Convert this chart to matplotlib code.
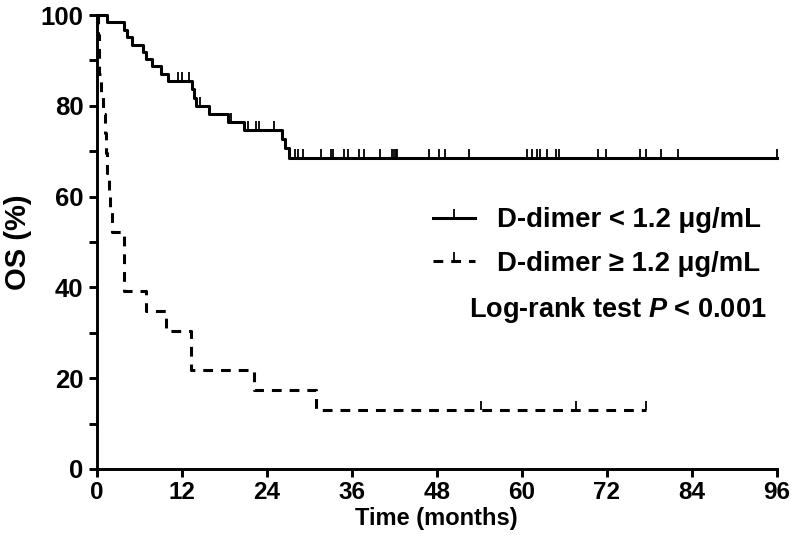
import numpy as np
import matplotlib
matplotlib.use("Agg")
from matplotlib import pyplot as plt
from matplotlib.lines import Line2D

# D-dimer < 1.2 ug/mL : event times (months) and survival (%)
low_t = [0, 1.4, 3.8, 4.3, 4.9, 6.5, 6.9, 7.8, 9.1, 10.1, 13.5, 13.7, 14.0,
         15.9, 18.5, 20.8, 26.2, 26.6, 27.2]
low_s = [100, 98.4, 96.8, 95.2, 93.5, 91.9, 90.3, 88.7, 87.1, 85.4, 83.6, 81.8,
         80.0, 78.2, 76.4, 74.6, 72.6, 70.6, 68.6]
low_end = 96
low_cens = [11.5, 12.0, 13.0, 14.5, 19.0, 21.3, 22.5, 22.9, 25.0, 27.95, 28.4,
            29.1, 31.6, 33.0, 33.3, 34.9, 35.4, 37.0, 37.7, 40.0, 41.7, 42.0,
            42.2, 42.4, 46.9, 48.3, 49.2, 52.6, 60.7, 61.5, 62.2, 62.5, 63.5,
            64.8, 65.3, 70.7, 71.9, 76.7, 77.6, 79.6, 82.0, 96.0]

# D-dimer >= 1.2 ug/mL
high_t = [0, 0.2, 0.3, 0.35, 0.6, 0.9, 1.1, 1.3, 1.5, 1.7, 1.9, 2.1, 3.9, 7.0,
          9.7, 13.3, 22.2, 31.0]
high_s = [100, 95.7, 91.3, 87.0, 82.6, 78.3, 73.9, 69.6, 65.2, 60.9, 56.5,
          52.2, 39.1, 34.8, 30.4, 21.7, 17.4, 13.0]
high_end = 77.5
high_cens = [54.2, 67.6, 77.5]

labels = ["D-dimer < 1.2 μg/mL", "D-dimer ≥ 1.2 μg/mL"]
x_ticks = [0, 12, 24, 36, 48, 60, 72, 84, 96]
y_ticks = [0, 20, 40, 60, 80, 100]


def survival_at(t, s, c):
    idx = np.searchsorted(t, c, side="right") - 1
    return np.asarray(s)[idx]


def main():
    plt.rcParams["font.family"] = ["Liberation Sans", "DejaVu Sans"]
    plt.rcParams["font.weight"] = "bold"
    plt.rcParams["mathtext.fontset"] = "custom"
    plt.rcParams["mathtext.it"] = "Liberation Sans:italic:bold"
    plt.rcParams["mathtext.rm"] = "Liberation Sans:bold"

    fig = plt.figure(figsize=(8, 5.56), dpi=100)
    ax = fig.add_axes([0.121, 0.1565, 0.850, 0.8165])

    lw = 2.2
    dash = (0, (3.2, 2.6))

    # 線を引く
    ax.step(low_t + [low_end], low_s + [low_s[-1]], where="post",
            color="black", lw=lw, clip_on=False)
    ax.plot(low_cens, survival_at(low_t, low_s, low_cens), ls="none",
            marker=2, ms=6.5, mew=1.3, color="black", clip_on=False)

    ax.step(high_t + [high_end], high_s + [high_s[-1]], where="post",
            color="black", lw=lw, ls=dash, clip_on=False)
    ax.plot(high_cens, survival_at(high_t, high_s, high_cens), ls="none",
            marker=2, ms=6.5, mew=1.3, color="black", clip_on=False)

    # 軸の設定
    ax.set_xlim(0, 96)
    ax.set_ylim(0, 100)
    ax.set_xticks(x_ticks)
    ax.set_yticks(y_ticks)
    ax.set_yticks(np.arange(10, 100, 20), minor=True)
    for side in ["top", "right"]:
        ax.spines[side].set_visible(False)
    for side in ["left", "bottom"]:
        ax.spines[side].set_linewidth(2.1)
    ax.tick_params(which="both", direction="out", width=2.1, length=5.5)
    ax.tick_params(axis="x", labelsize=17.5, pad=3)
    ax.tick_params(axis="y", labelsize=18.5, pad=4)
    for lab in ax.get_xticklabels() + ax.get_yticklabels():
        lab.set_fontweight("bold")
    ax.set_xlabel("Time (months)", fontsize=17, fontweight="bold", labelpad=2)
    ax.set_ylabel("OS (%)", fontsize=21, fontweight="bold", labelpad=6)

    # 凡例表示
    handles = [
        Line2D([], [], color="black", lw=lw, marker=2, ms=6.5, mew=1.3),
        Line2D([], [], color="black", lw=lw, ls=dash, marker=2, ms=6.5, mew=1.3),
    ]
    ax.legend(handles, labels, loc="center left", bbox_to_anchor=(0.494, 0.500),
              frameon=False, handlelength=1.55, handletextpad=0.8,
              labelspacing=0.62, borderpad=0, borderaxespad=0, numpoints=1,
              prop={"weight": "bold", "size": 19.8})

    ax.text(0.985, 0.35, "Log-rank test $P$ < 0.001", transform=ax.transAxes,
            ha="right", va="center", fontsize=19.5, fontweight="bold")

    fig.savefig("out.png", dpi=100)


if __name__ == "__main__":
    main()
